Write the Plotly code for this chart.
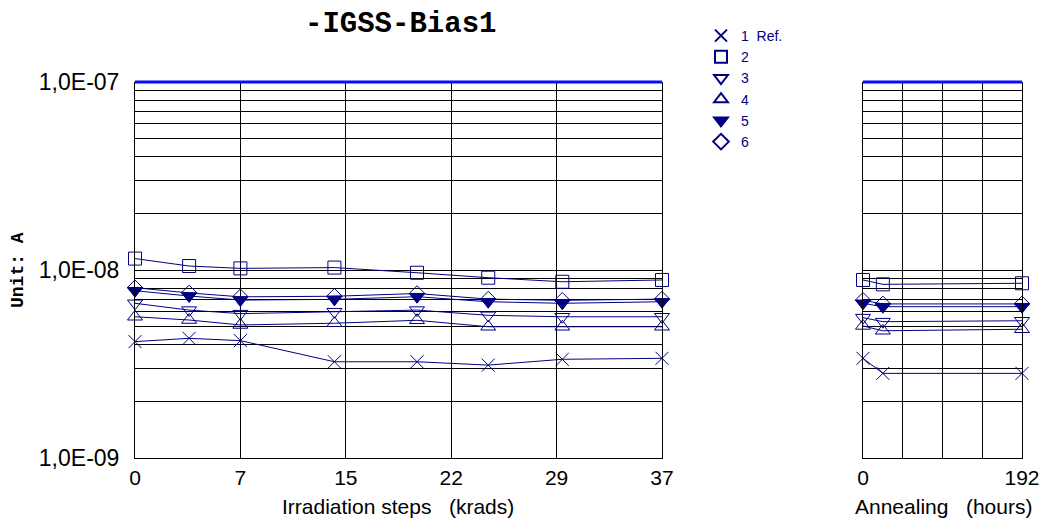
import plotly.graph_objects as go

# ---------------- data ----------------
irr_doses = [0, 3.8, 7.4, 14, 19.8, 24.8, 30, 37]          # krads
ann_hours = [0, 24, 192]                                   # hours

irr_tick_vals = [0, 7.4, 14.8, 22.2, 29.6, 37]
irr_tick_text = ["0", "7", "15", "22", "29", "37"]
ann_tick_vals = [0, 48, 96, 144, 192]
ann_tick_text = ["0", "", "", "", "192"]

series_names = ["1  Ref.", "2", "3", "4", "5", "6"]

irr_s1 = [4.16e-9, 4.33e-9, 4.21e-9, 3.25e-9, 3.25e-9, 3.12e-9, 3.35e-9, 3.39e-9]
irr_s2 = [1.15e-8, 1.05e-8, 1.02e-8, 1.03e-8, 9.67e-9, 9.10e-9, 8.66e-9, 8.85e-9]
irr_s3 = [6.65e-9, 6.12e-9, 5.86e-9, 6.00e-9, 6.12e-9, 5.74e-9, 5.64e-9, 5.64e-9]
irr_s4 = [5.64e-9, 5.42e-9, 5.10e-9, 5.21e-9, 5.40e-9, 4.99e-9, 4.99e-9, 4.99e-9]
irr_s5 = [7.76e-9, 7.27e-9, 6.92e-9, 6.98e-9, 7.21e-9, 6.78e-9, 6.65e-9, 6.78e-9]
irr_s6 = [8.05e-9, 7.55e-9, 7.20e-9, 7.25e-9, 7.50e-9, 7.00e-9, 6.90e-9, 7.00e-9]

ann_s1 = [3.39e-9, 2.82e-9, 2.82e-9]
ann_s2 = [8.85e-9, 8.39e-9, 8.50e-9]
ann_s3 = [5.58e-9, 5.31e-9, 5.37e-9]
ann_s4 = [5.04e-9, 4.75e-9, 4.84e-9]
ann_s5 = [6.65e-9, 6.38e-9, 6.38e-9]
ann_s6 = [6.90e-9, 6.60e-9, 6.60e-9]

y_tick_vals = [m * 10.0 ** e for e in (-9, -8) for m in range(1, 10)] + [1e-7]
y_tick_text = ["1,0E-09" if v == 1e-9 else "1,0E-08" if v == 1e-8 else
               "1,0E-07" if v == 1e-7 else "" for v in y_tick_vals]

# ---------------- styling ----------------
NAVY = "#000080"
symbols = ["x-thin", "square-open", "triangle-down-open", "triangle-up-open",
           "triangle-down", "diamond-open"]
sizes = [13, 13, 13, 13, 13, 12]
irr_data = [irr_s1, irr_s2, irr_s3, irr_s4, irr_s5, irr_s6]
ann_data = [ann_s1, ann_s2, ann_s3, ann_s4, ann_s5, ann_s6]
draw_order = [0, 1, 2, 3, 5, 4]   # diamond drawn beneath the filled triangle

# page body has an 8px margin: figure sits at (8, 8) in the window
OFF = 8
W, H = 1055 - OFF, 523 - OFF
fig = go.Figure()

def marker(i):
    return dict(symbol=symbols[i], size=sizes[i], color=NAVY,
                line=dict(color=NAVY, width=1))

for i in draw_order:
    fig.add_trace(go.Scatter(
        x=irr_doses, y=irr_data[i], mode="lines+markers", name=series_names[i],
        line=dict(color=NAVY, width=1), marker=marker(i), cliponaxis=False,
        showlegend=False, xaxis="x", yaxis="y"))
    fig.add_trace(go.Scatter(
        x=ann_hours, y=ann_data[i], mode="lines+markers", name=series_names[i],
        line=dict(color=NAVY, width=1), marker=marker(i), cliponaxis=False,
        showlegend=False, xaxis="x2", yaxis="y2"))

# legend entries (markers only, as in the reference legend)
for i in range(6):
    fig.add_trace(go.Scatter(
        x=[None], y=[None], mode="markers", name=series_names[i],
        marker=marker(i), showlegend=True, xaxis="x", yaxis="y"))

# window pixel -> paper helpers
def px(x):
    return (x - OFF) / W

def py(y):
    return 1 - (y - OFF) / H

left_dom = [px(135), px(662)]
right_dom = [px(863), px(1022)]
y_dom = [py(458), py(82)]

TICKFONT = dict(family="Liberation Sans, Arial", size=21, color="black")
YTICKFONT = dict(family="Liberation Sans, Arial", size=23, color="black")
common_y = dict(type="log", range=[-9, -7], domain=y_dom, tickmode="array",
                tickvals=y_tick_vals, showgrid=True, gridcolor="black",
                gridwidth=1, zeroline=False, showline=True, mirror=True,
                linecolor="black", linewidth=1, fixedrange=True,
                automargin=False)
common_x = dict(showgrid=True, gridcolor="black", gridwidth=1, zeroline=False,
                showline=True, linecolor="black", linewidth=1,
                ticks="outside", ticklen=1, tickcolor="rgba(0,0,0,0)",
                tickfont=TICKFONT, automargin=False, tickmode="array")

fig.update_layout(
    template="plotly_white",
    width=W, height=H, margin=dict(l=0, r=0, t=0, b=0, autoexpand=False),
    paper_bgcolor="white", plot_bgcolor="white",
    showlegend=True,
    legend=dict(x=px(701), y=py(20), xanchor="left", yanchor="top",
                font=dict(family="Liberation Sans, Arial", size=14, color=NAVY),
                bgcolor="rgba(0,0,0,0)", tracegroupgap=0, itemsizing="constant"),
    xaxis=dict(**common_x, domain=left_dom, range=[0, 37],
               tickvals=irr_tick_vals, ticktext=irr_tick_text, anchor="y"),
    xaxis2=dict(**common_x, domain=right_dom, range=[0, 192],
                tickvals=ann_tick_vals, ticktext=ann_tick_text, anchor="y2"),
    yaxis=dict(**common_y, ticktext=y_tick_text, ticks="outside", ticklen=10,
               tickcolor="rgba(0,0,0,0)", tickfont=YTICKFONT, anchor="x"),
    yaxis2=dict(**common_y, showticklabels=False, anchor="x2"),
)

# thick blue line at the top of each panel
for xr, yr in (("x domain", "y domain"), ("x2 domain", "y2 domain")):
    fig.add_shape(type="line", xref=xr, yref=yr, x0=0, x1=1, y0=1, y1=1,
                  line=dict(color="#0a0aff", width=3))

NB = "\u00a0"
fig.add_annotation(text="<b>-IGSS-Bias1</b>", xref="paper", yref="paper",
                   x=px(400), y=py(24), xanchor="center", yanchor="middle",
                   showarrow=False, height=30, valign="middle",
                   font=dict(family="Liberation Mono, Courier New", size=29,
                             color="black"))
fig.add_annotation(text="<b>Unit: A</b>", xref="paper", yref="paper",
                   x=px(18), y=py(270), xanchor="center", yanchor="middle",
                   textangle=-90, showarrow=False,
                   font=dict(family="Liberation Mono, Courier New", size=18,
                             color="black"))
fig.add_annotation(text="Irradiation steps" + NB * 3 + "(krads)", xref="paper",
                   yref="paper", x=px(398), y=py(506), xanchor="center",
                   yanchor="middle", showarrow=False,
                   font=dict(family="Liberation Sans, Arial", size=21,
                             color="black"))
fig.add_annotation(text="Annealing" + NB * 3 + "(hours)", xref="paper",
                   yref="paper", x=px(943), y=py(506), xanchor="center",
                   yanchor="middle", showarrow=False,
                   font=dict(family="Liberation Sans, Arial", size=21,
                             color="black"))

fig.write_html("out.html")
